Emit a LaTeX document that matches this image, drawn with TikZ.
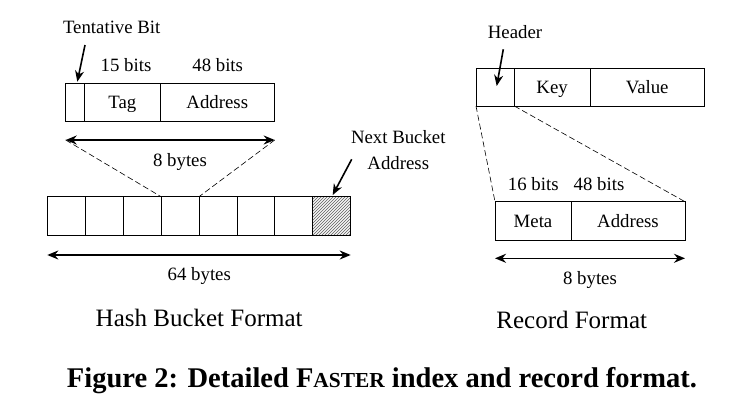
\documentclass[tikz,border=0pt]{standalone}
\usepackage{fontspec}
\setmainfont{Liberation Serif}
\usetikzlibrary{arrows.meta,patterns}
\begin{document}
\begin{tikzpicture}[x=1pt,y=-1pt,
  cellbox/.style={draw,line width=0.8pt,inner sep=0pt,outer sep=0pt,anchor=north west,
     text height=14pt,text depth=1pt,font=\fontsize{18.8}{22}\selectfont},
  lbl/.style={inner sep=0pt,text height=14pt,text depth=1pt,font=\fontsize{18.8}{22}\selectfont},
  big/.style={inner sep=0pt,text height=18pt,text depth=1pt,font=\fontsize{25}{30}\selectfont},
  dimarrow/.style={line width=1.6pt,{Stealth[length=11pt,width=9pt]}-{Stealth[length=11pt,width=9pt]}},
  ptr/.style={line width=1.6pt,-{Stealth[length=11pt,width=9pt]}},
  dashline/.style={line width=0.6pt,dash pattern=on 6pt off 3pt}]
\useasboundingbox (0,0) rectangle (736,407);
\fill[white] (0,0) rectangle (736,407);

% ---- top-left entry ----
\node[cellbox,minimum width=19pt,minimum height=37.7pt] (tb) at (65.3,83.3) {};
\node[cellbox,minimum width=76pt,minimum height=37.7pt] (tag) at (84.3,83.3) {Tag};
\node[cellbox,minimum width=114pt,minimum height=37.7pt] (addr) at (160.3,83.3) {Address};
\node[lbl] (tent) at (111.7,26.7) {Tentative Bit};
\node[lbl] (b15) at (126,65) {15 bits};
\node[lbl] (b48) at (217.7,65) {48 bits};
\coordinate (tentS) at (85,45);
\coordinate (tentE) at (77.3,81.7);
\draw[ptr] (tentS) -- (tentE);

\coordinate (e8l) at (65.7,140);
\coordinate (e8r) at (274.7,140);
\draw[dimarrow] (e8l) -- (e8r);
\node[lbl] (by8a) at (180,160) {8 bytes};

% ---- bucket ----
\foreach \i in {0,...,6} {
  \node[cellbox,minimum width=37.93pt,minimum height=38.6pt] (c\i) at ({47.3+37.93*\i},196.7) {};
}
\node[cellbox,draw=none,minimum width=37.93pt,minimum height=38.6pt,fill=gray!35,
      pattern=north east lines,pattern color=gray] (c7bg) at ({47.3+37.93*7},196.7) {};
\node[cellbox,minimum width=37.93pt,minimum height=38.6pt,
      pattern=north east lines,pattern color=gray!90!black] (c7) at ({47.3+37.93*7},196.7) {};

\draw[dashline] (e8l) -- (c3.north west);
\draw[dashline] (e8r) -- (c3.north east);

\coordinate (e64l) at (47.3,255);
\coordinate (e64r) at (350.7,255);
\draw[dimarrow] (e64l) -- (e64r);
\node[lbl] (by64) at (199.3,274) {64 bytes};

\node[lbl] (nb1) at (398.3,136.7) {Next Bucket};
\node[lbl] (nb2) at (398.3,162.7) {Address};
\coordinate (nbS) at (351.7,159.3);
\coordinate (nbE) at (332.7,195);
\draw[ptr] (nbS) -- (nbE);

\node[big] (hbf) at (199.2,317.7) {Hash Bucket Format};

% ---- record ----
\node[cellbox,minimum width=38.3pt,minimum height=37.7pt] (hdr) at (476,68.3) {};
\node[cellbox,minimum width=75.7pt,minimum height=37.7pt] (key) at (514.3,68.3) {Key};
\node[cellbox,minimum width=114.3pt,minimum height=37.7pt] (val) at (590,68.3) {Value};
\draw[line width=1.3pt] (hdr.north east) -- (hdr.south east);
\node[lbl] (hdrl) at (515,31.7) {Header};
\coordinate (hS) at (503.3,49.3);
\coordinate (hE) at (496.7,86);
\draw[ptr] (hS) -- (hE);

\node[cellbox,minimum width=76pt,minimum height=38.3pt] (meta) at (495,201.7) {Meta};
\node[cellbox,minimum width=114pt,minimum height=38.3pt] (maddr) at (571,201.7) {Address};
\draw[dashline] (hdr.south west) -- (meta.north west);
\draw[dashline] (hdr.south east) -- (maddr.north east);
\node[lbl] (b16) at (533.3,184) {16 bits};
\node[lbl] (b48b) at (599,184) {48 bits};

\coordinate (r8l) at (495,258.3);
\coordinate (r8r) at (685,258.3);
\draw[dimarrow] (r8l) -- (r8r);
\node[lbl] (by8b) at (590,278.3) {8 bytes};

\node[big] (rf) at (571.7,320) {Record Format};

% ---- caption ----
\node[inner sep=0pt] (cap) at (382,381) {\resizebox{630pt}{!}{\bfseries\fontsize{24}{28}\selectfont Figure 2: Detailed F{\fontsize{18}{20}\selectfont ASTER} index and record format.}};
\end{tikzpicture}
\end{document}
